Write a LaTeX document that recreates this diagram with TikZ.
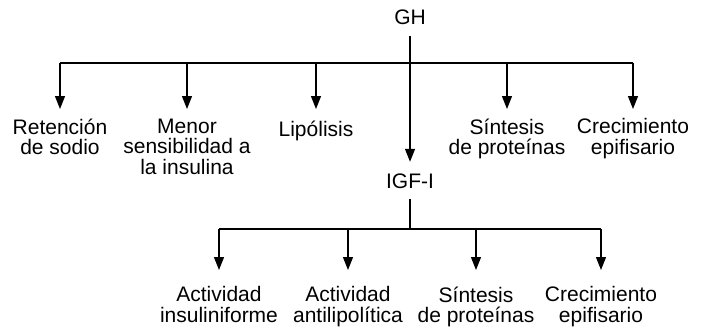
\documentclass[tikz,border=0pt]{standalone}
\usepackage{fontspec}
\setmainfont{Liberation Sans}
\usetikzlibrary{positioning,arrows.meta}

\begin{document}
\begin{tikzpicture}[
    x=1pt, y=-1pt,
    every node/.style={font=\fontsize{21}{20.5}\selectfont},
    hormone/.style={anchor=base, inner xsep=2pt, inner ysep=11pt, text height=15pt, text depth=0pt},
    effect/.style={anchor=north, align=center, inner xsep=2pt, inner ysep=#1, execute at begin node={\vphantom{Ó}}},
    line/.style={line width=1.3pt},
    edge/.style={line width=1.3pt, -{Triangle[length=13pt, width=10pt]}}
]
    \useasboundingbox (0,0) rectangle (701,329);

    % GH y sus efectos
    \node[hormone] (gh) at (410,25) {GH};
    \node[effect=9.5pt] (sodio) at (60,109) {Retención\\de sodio};
    \node[effect=9.5pt] (insul) at (187,109) {Menor\\sensibilidad a\\la insulina};
    \node[effect=9.5pt] (lipol) at (316,109) {Lipólisis};
    \node[effect=9.5pt] (prot1) at (507,109) {Síntesis\\de proteínas};
    \node[effect=9.5pt] (crec1) at (633,109) {Crecimiento\\epifisario};

    % IGF-I y sus efectos
    \node[hormone] (igf) at (410,188) {IGF-I};
    \node[effect=16.5pt] (activ) at (219,270) {Actividad\\insuliniforme};
    \node[effect=16.5pt] (antil) at (348,270) {Actividad\\antilipolítica};
    \node[effect=16.5pt] (prot2) at (476,270) {Síntesis\\de proteínas};
    \node[effect=16.5pt] (crec2) at (601,270) {Crecimiento\\epifisario};

    % Barras
    \coordinate (gbar) at (410,63);
    \coordinate (ibar) at (410,229);
    \draw[line] (gh) -- (gbar);
    \draw[line] (gbar -| sodio) -- (gbar -| crec1);
    \draw[line] (igf) -- (ibar);
    \draw[line] (ibar -| activ) -- (ibar -| crec2);

    % Flechas GH
    \draw[edge] (gbar -| sodio) -- (sodio);
    \draw[edge] (gbar -| insul) -- (insul);
    \draw[edge] (gbar -| lipol) -- (lipol);
    \draw[edge] (gbar) -- (igf);
    \draw[edge] (gbar -| prot1) -- (prot1);
    \draw[edge] (gbar -| crec1) -- (crec1);

    % Flechas IGF-I
    \draw[edge] (ibar -| activ) -- (activ);
    \draw[edge] (ibar -| antil) -- (antil);
    \draw[edge] (ibar -| prot2) -- (prot2);
    \draw[edge] (ibar -| crec2) -- (crec2);

\end{tikzpicture}
\end{document}
